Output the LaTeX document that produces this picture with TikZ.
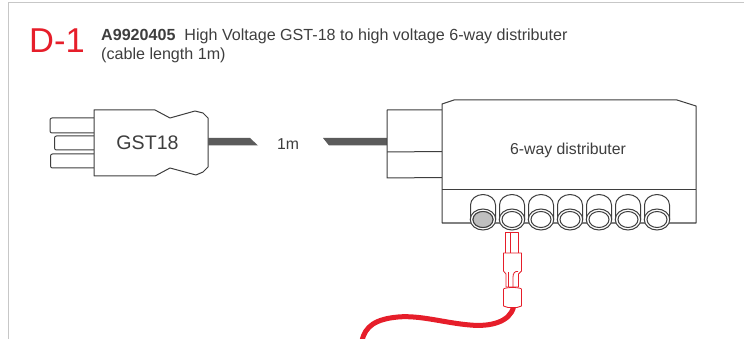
\documentclass[tikz,border=0pt]{standalone}
\usepackage{fontspec}
\usetikzlibrary{shapes.geometric}
\setmainfont{Liberation Sans}
\definecolor{kred}{RGB}{230,30,42}
\definecolor{kgray}{RGB}{62,62,62}
\begin{document}
\begin{tikzpicture}[x=1pt,y=-1pt,
  outline/.style={draw=kgray,line width=1pt,fill=white,line join=round},
  redline/.style={draw=kred,line width=0.8pt,fill=white,line join=round},
  label/.style={text=kgray,inner sep=0pt},
  portring/.style={draw=kgray,line width=1pt,fill=white,ellipse,minimum width=25.5pt,minimum height=21pt,inner sep=0pt},
  porthole/.style={draw=kgray,line width=1pt,fill=white,ellipse,minimum width=20pt,minimum height=16pt,inner sep=0pt},
  cable/.style={fill=kgray!85}]
  \useasboundingbox (0,0) rectangle (744,339);
  \draw [black!22,line width=1pt] (8.5,339) -- (8.5,3) -- (744,3);
  % title
  \node [text=kred,font=\fontsize{34.5}{34.5}\selectfont,anchor=base west,inner sep=0pt] (title) at (29,53) {D-1};
  \node [label,font=\fontsize{16.1}{18.5}\selectfont,align=left,anchor=base west] (heading) at (101,59.5)
    {\textbf{A9920405}\ \ High Voltage GST-18 to high voltage 6-way distributer\\(cable length 1m)};
  % plug
  \draw [outline,rounded corners=2pt] (94,118) -- (50,118) -- (50,133) -- (94,133);
  \draw [outline,rounded corners=2pt] (94,136) -- (54.5,136) -- (54.5,150) -- (94,150);
  \draw [outline,rounded corners=2pt] (94,154) -- (50.5,154) -- (50.5,168) -- (94,168);
  \draw [outline] (94,110) -- (155,110) -- (170,118) -- (195,111) -- (203,113) -- (208,118)
    -- (208,167) -- (203,172) -- (196,175) -- (170,168) -- (155,176) -- (94,176) -- cycle;
  \node [label,font=\fontsize{19.6}{19.6}\selectfont] (gst) at (147.5,143) {GST18};
  % cable
  \fill [cable] (208,138) -- (250,138) -- (258,145.5) -- (208,145.5) -- cycle;
  \fill [cable] (323,138) -- (387,138) -- (387,145.5) -- (329,145.5) -- cycle;
  \node [label,font=\fontsize{15.8}{15.8}\selectfont] (len) at (288,144) {1m};
  % distributor
  \draw [outline] (442,110) -- (387,110) -- (387,178) -- (442,177.5);
  \draw [outline] (387,152) -- (442,151.5);
  \draw [outline] (442,104) -- (454,100) -- (677,100) -- (696,106) -- (696,223) -- (442,223) -- cycle;
  \draw [outline] (442,189.5) -- (696,189.5);
  \node [label,font=\fontsize{15.8}{15.8}\selectfont] (dist) at (568,150) {6-way distributer};
  \foreach \i/\x in {1/483,2/512,3/541,4/570,5/599,6/628,7/657}{
    \draw [outline] (\x-12.5,219) -- (\x-12.5,205) arc[start angle=180,end angle=360,x radius=12.5,y radius=10.5] -- (\x+12.5,219);
    \node [portring] (port\i) at (\x,219.5) {};
    \node [porthole] (hole\i) at (\x,219.5) {};
  }
  \node [porthole,fill=black!25] (hole1b) at (483,219.5) {};
  % red plug
  \draw [redline] (505.5,232) rectangle (518.5,253);
  \draw [redline] (510.5,232) -- (510.5,253);
  \draw [kred,line width=5pt] (513.5,307) .. controls (510,322) and (490,327) .. (470,325)
    .. controls (445,323) and (420,315) .. (398,317) .. controls (376,319) and (365,326) .. (362,341);
  \draw [redline] (503.5,253) -- (521.5,253) -- (521.5,271) -- (518.5,274) -- (518.5,287) -- (506,287) -- (506,274) -- (503.5,271) -- cycle;
  \draw [redline] (508.5,272) -- (508.5,287);
  \draw [redline,fill=none] (513,287) -- (513,277) .. controls (513,273) and (515,271) .. (518,271.5);
  \draw [redline] (503.5,289) .. controls (506,287) and (519,287) .. (521.5,289) -- (521.5,306) -- (517,307.5) -- (508,307.5) -- (503.5,306) -- cycle;
\end{tikzpicture}
\end{document}
